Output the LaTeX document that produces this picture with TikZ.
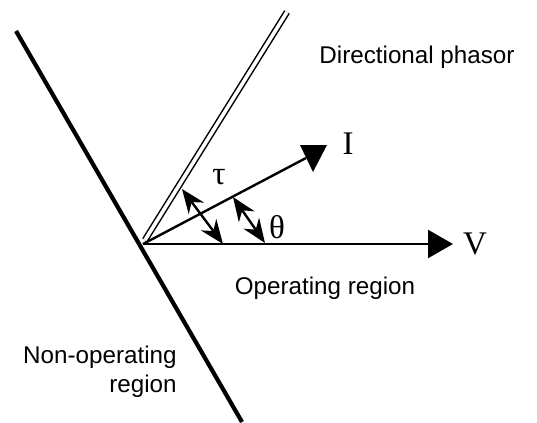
\documentclass[tikz,border=0pt]{standalone}
\usepackage{fontspec}
\setmainfont{Liberation Sans}
\newfontfamily\symfont{Liberation Serif}
\usetikzlibrary{arrows.meta}

\begin{document}
\begin{tikzpicture}[
  x=0.5pt, y=-0.5pt,
  txt/.style={font=\fontsize{12.1}{14.5}\selectfont, inner sep=0pt},
  sym/.style={font=\symfont\fontsize{16.5}{18}\selectfont, inner sep=0pt},
  border/.style={line width=2.1pt, line cap=butt},
  phasor/.style={line width=1.2pt},
  dirline/.style={double, line width=0.75pt, double distance=1.8pt},
  angarr/.style={line width=1.2pt, {Stealth[length=12pt,width=9.5pt]}-{Stealth[length=12pt,width=9.5pt]}},
  varr/.style={line width=1.2pt, -{Triangle[length=12.5pt,width=14pt]}}
]
\useasboundingbox (0,0) rectangle (537,423);

% origin and ends
\coordinate (O) at (143,244);
\coordinate (bt) at (16,31);
\coordinate (bb) at (242,422);
\coordinate (dt) at (287,12);
\coordinate (db) at (145,240);
\coordinate (Vend) at (453,244);
\coordinate (Iend) at (306,158);
\coordinate (tauA) at (182,189);
\coordinate (tauB) at (223,244);
\coordinate (thA) at (233,197);
\coordinate (thB) at (265,243);

% boundary of the operating region
\draw[border] (bt) -- (bb);
% directional phasor
\draw[dirline] (db) -- (dt);

% phasors
\draw[varr] (O) -- (Vend);
\draw[phasor] (O) -- (Iend);
\fill (300,145) -- (327,145) -- (313,172) -- cycle;

% angles
\draw[angarr] (tauA) -- (tauB);
\draw[angarr] (thA) -- (thB);

% labels
\node[sym] (V) at (475,244) {V};
\node[sym] (I) at (348,144) {I};
\node[sym] (tau) at (219,177) {τ};
\node[sym] (theta) at (277,227) {θ};
\node[txt] (dir) at (417,57) {Directional phasor};
\node[txt] (op) at (325,288) {Operating region};
\node[txt, align=right, anchor=east] (nonop) at (177,372) {Non-operating\\region};
\end{tikzpicture}
\end{document}
